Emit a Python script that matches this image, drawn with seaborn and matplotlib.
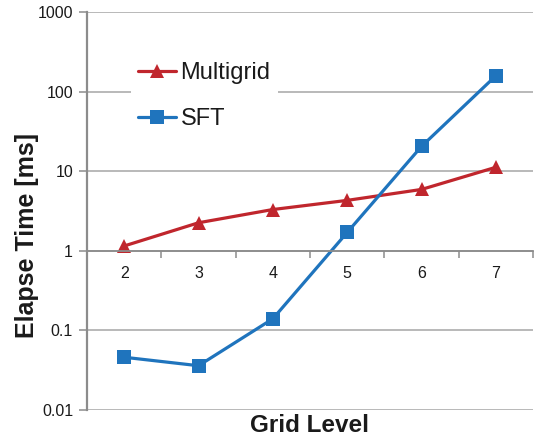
import matplotlib
matplotlib.use("Agg")
import matplotlib.pyplot as plt
import seaborn as sns
import pandas as pd
import numpy as np

levels = [2, 3, 4, 5, 6, 7]
multigrid = [1.15, 2.25, 3.3, 4.3, 5.9, 11.2]
sft = [0.046, 0.036, 0.14, 1.7, 20.5, 158]
series_names = ["Multigrid", "SFT"]
colors = {"Multigrid": "#C0262D", "SFT": "#1F74BD"}
markers = {"Multigrid": "^", "SFT": "s"}
y_ticks = [0.01, 0.1, 1, 10, 100, 1000]
y_tick_labels = ["0.01", "0.1", "1", "10", "100", "1000"]

df = pd.DataFrame({
    "level": levels * 2,
    "time": multigrid + sft,
    "series": ["Multigrid"] * len(levels) + ["SFT"] * len(levels),
})

sns.set_style("white")
plt.rcParams["font.family"] = ["Liberation Sans", "DejaVu Sans"]

fig = plt.figure(figsize=(5.34, 4.43), dpi=100)
ax = fig.add_axes([87 / 534, 33 / 443, 446 / 534, 398 / 443])

sns.lineplot(data=df, x="level", y="time", hue="series", style="series",
             palette=colors, markers=markers, dashes=False, linewidth=2.3,
             markersize=9.8, markeredgewidth=0, ax=ax, legend=True)

ax.set_yscale("log")
ax.set_ylim(0.01, 1000)
ax.set_xlim(1.5, 7.5)
ax.set_yticks(y_ticks)
ax.set_yticklabels(y_tick_labels)
ax.yaxis.set_minor_locator(matplotlib.ticker.NullLocator())
ax.set_xticks(levels)
ax.set_xticklabels([str(v) for v in levels])
ax.set_xticks(np.arange(2.5, 7.6, 1.0), minor=True)

grid_c = "#A6A6A6"
for yv in y_ticks:
    ax.axhline(yv, color=grid_c, lw=1.1, zorder=0)

for s in ["top", "right"]:
    ax.spines[s].set_visible(False)
ax.spines["left"].set_color("#8C8C8C")
ax.spines["left"].set_linewidth(1.6)
ax.spines["bottom"].set_position(("data", 1))
ax.spines["bottom"].set_color("#8C8C8C")
ax.spines["bottom"].set_linewidth(1.3)

ax.tick_params(axis="y", which="major", direction="out", length=6, width=1.1,
               color="#8C8C8C", labelsize=11.5, pad=4, left=True)
ax.tick_params(axis="x", which="major", length=0, labelsize=11.5, pad=11, bottom=True)
ax.tick_params(axis="x", which="minor", direction="out", length=5, width=1.1,
               color="#8C8C8C", bottom=True)
for t in ax.get_xticklabels() + ax.get_yticklabels():
    t.set_color("#1A1A1A")

ax.set_xlabel("")
ax.set_ylabel("")
fig.text(27 / 534, 1 - 235 / 443, "Elapse Time [ms]", rotation=90, fontsize=18,
         fontweight="bold", ha="center", va="center", color="#1A1A1A")
fig.text(310 / 534, 1 - 425 / 443, "Grid Level", fontsize=17.5,
         fontweight="bold", ha="center", va="center", color="#1A1A1A")

leg = ax.legend(loc="upper left", bbox_to_anchor=(131 / 534, 1 - 55 / 443),
                bbox_transform=fig.transFigure, frameon=True, fontsize=17,
                handlelength=1.6, handletextpad=0.2, labelspacing=1.02,
                borderpad=0.3, borderaxespad=0, fancybox=False)
leg.get_frame().set_facecolor("white")
leg.get_frame().set_edgecolor("none")
leg.get_frame().set_alpha(1)
leg.set_zorder(5)
for t in leg.get_texts():
    t.set_color("#1A1A1A")

fig.savefig("out.png", dpi=100)
